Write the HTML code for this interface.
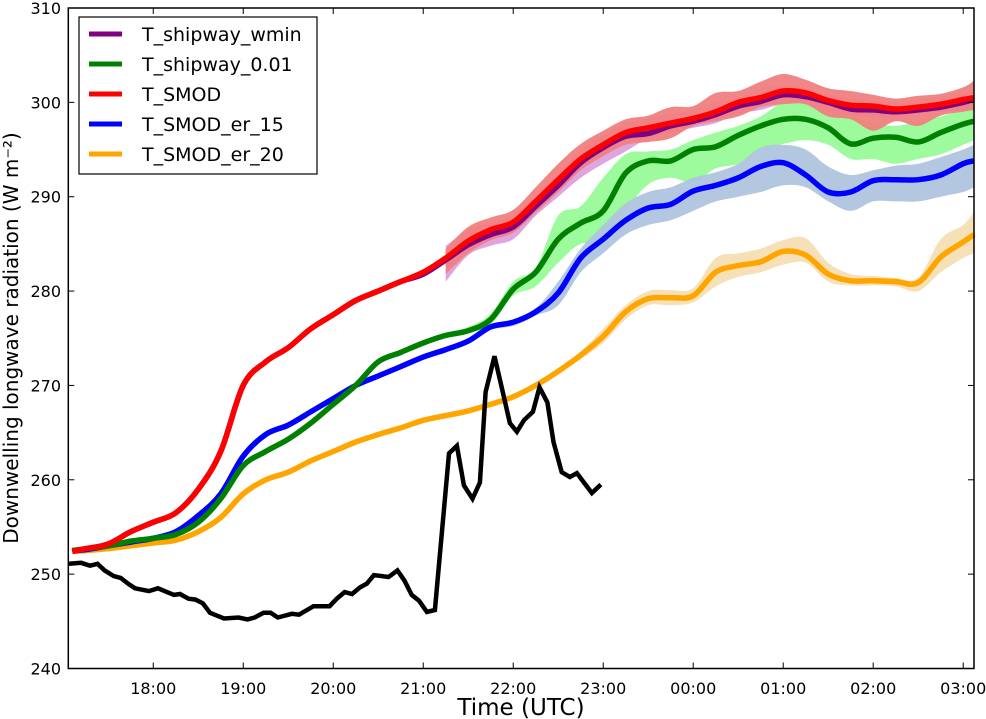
<!DOCTYPE html>
<html><head><meta charset="utf-8"><style>
html,body{margin:0;padding:0;background:#fff;}
svg{display:block;font-family:"DejaVu Sans","Liberation Sans",sans-serif;}
</style></head><body>
<svg id="chart" width="986" height="719" viewBox="0 0 986 719" xmlns="http://www.w3.org/2000/svg">
<g id="bands"></g>
<g id="lines"></g>
<g id="axes"></g>
<text x="521" y="715" font-size="23" text-anchor="middle">Time (UTC)</text>
<text transform="translate(18,338) rotate(-90)" font-size="20" text-anchor="middle">Downwelling longwave radiation (W m⁻²)</text>
<g>
<rect x="79" y="17" width="238" height="157" fill="#fff" stroke="#000" stroke-width="1.2"/>
<g><line x1="89" y1="34" x2="122" y2="34" stroke="#800080" stroke-width="5"/><text x="142" y="41" font-size="19">T_shipway_wmin</text></g>
<g><line x1="89" y1="64" x2="122" y2="64" stroke="#008000" stroke-width="5"/><text x="142" y="71" font-size="19">T_shipway_0.01</text></g>
<g><line x1="89" y1="94" x2="122" y2="94" stroke="#ff0000" stroke-width="5"/><text x="142" y="101" font-size="19">T_SMOD</text></g>
<g><line x1="89" y1="124" x2="122" y2="124" stroke="#0000ff" stroke-width="5"/><text x="142" y="131" font-size="19">T_SMOD_er_15</text></g>
<g><line x1="89" y1="154" x2="122" y2="154" stroke="#ffa500" stroke-width="5"/><text x="142" y="161" font-size="19">T_SMOD_er_20</text></g>
</g>
</svg>
<script>
// hours since 17:00 UTC
const gridTimes = [0.1,0.25,0.5,0.75,1,1.25,1.5,1.75,2,2.25,2.5,2.75,3,3.25,3.5,3.75,4,4.25,4.5,4.75,5,5.25,5.5,5.75,6,6.25,6.5,6.75,7,7.25,7.5,7.75,8,8.25,8.5,8.75,9,9.25,9.5,9.75,10,10.12];
const smod = [252.4,252.7,253.2,254.5,255.5,256.5,259,263,270,272.5,274,276,277.5,279,280,281,282,283.5,285.3,286.5,287.3,289.5,291.8,294,295.5,296.8,297.3,297.8,298.3,299,300,300.5,301.2,301,300.2,299.7,299.6,299.3,299.5,299.8,300.3,300.5];
const shipwayWmin = [252.4,252.7,253.2,254.5,255.5,256.5,259,263,270,272.5,274,276,277.5,279,280,281,281.8,283.3,284.9,286,286.8,289,291.2,293.6,295.2,296.4,296.7,297.5,298,298.7,299.6,300.1,300.8,300.6,300,299.3,299.2,299,299.2,299.5,300,300.3];
const shipway001 = [252.5,252.7,253,253.5,253.8,254.2,255.5,258,261.5,263,264.3,266,268,270,272.5,273.5,274.5,275.3,275.8,277,280.2,282,285.5,287.2,288.5,292.5,293.8,293.8,295,295.3,296.5,297.5,298.2,298.2,297.3,295.6,296.2,296.3,295.8,296.8,297.7,298];
const smodEr15 = [252.5,252.6,253,253.4,253.8,254.5,256.2,258.5,262.5,264.8,265.8,267.2,268.6,270,271,272,273,273.8,274.7,276.2,276.7,277.8,279.8,283.5,285.5,287.5,288.8,289.2,290.6,291.2,292,293.2,293.6,292.3,290.5,290.5,291.7,291.8,291.8,292.3,293.5,293.8];
const smodEr20 = [252.4,252.5,252.7,253,253.3,253.6,254.5,256,258.5,260,260.8,262,263,264,264.8,265.5,266.3,266.8,267.3,268,268.8,270,271.5,273.2,275.2,277.8,279.2,279.3,279.5,282,282.7,283.1,284.2,283.8,281.8,281.1,281.1,281,280.9,283.6,285.2,286];

const bandTimes = [4.25,4.5,4.75,5,5.25,5.5,5.75,6,6.25,6.5,6.75,7,7.25,7.5,7.75,8,8.25,8.5,8.75,9,9.25,9.5,9.75,10,10.12];
const wminHi = [284.8,286.5,287.3,288,290,292.5,295,296.5,297.8,298.3,298.8,299.2,300,300.5,301.5,301.8,301.5,300.8,300.4,300.2,300,300.3,300.6,301,301.3];
const wminLo = [281,283.8,284.8,285.5,288,290,292,293.5,294.8,296.2,296.8,297.3,297.8,298.8,299.2,299.8,299.5,298.8,298.6,298.4,298.4,298.8,299,299.2,299.4];
const greenHi = [275.6,276.2,277.6,281,282.5,288,289,292,294.5,294.8,295,296,296.8,297.5,298.5,300,299.8,299,298.5,297.8,297.5,298,298.5,299.3,299.8];
const greenLo = [275,275.5,276.5,279.5,280.5,283,285,285,288.5,291.3,292,291.5,293,293.5,295,295.6,296,295.5,294,294,293.5,294,294.5,295.5,296];
const smodHi = [284.5,286.8,287.8,288.6,291,293.5,295.6,297,298.2,298.6,299.5,299.6,301,301.2,302.2,303,302.4,301.5,301.2,300.8,300.4,300.7,300.9,301.6,302.3];
const smodLo = [281.8,284,285.4,286.2,288.3,290.5,292.8,294.3,295.5,295.8,296.2,297.5,298,298.5,299.5,299.8,299.8,298.5,298.2,297,298,297.5,298.6,299,299.2];
const er15Hi = [274,275,276.5,277,278.2,281,284.5,287,289.3,290.5,291,292,292.6,293.5,295.2,295.5,295,293.2,292.3,292.8,293.3,293.5,294.2,295,295.5];
const er15Lo = [273.5,274.4,275.9,276.3,277.4,278.5,282,284,286,287,287.5,288.5,289.5,290,290.5,291.2,291,289.5,288.5,289.5,289.5,289.5,290,290.5,291];
const er20Hi = [266.9,267.4,268.1,268.9,270.1,271.6,273.6,276,278.5,280,280.1,280.3,283.5,284,284.5,285.4,285.6,283,281.8,281.6,281.4,281.4,285.5,287,288.4];
const er20Lo = [266.7,267.2,267.9,268.7,269.9,271.4,272.8,274.5,277,278.5,278.5,278.8,280.5,281.5,282,282.8,283,281,280.6,280.6,280.5,280,282,283.5,284];

const obsTimes = [0.063,0.197,0.297,0.38,0.459,0.559,0.638,0.719,0.797,0.952,1.052,1.23,1.297,1.392,1.471,1.552,1.63,1.786,1.948,2.047,2.126,2.226,2.304,2.384,2.541,2.619,2.781,2.959,3.039,3.126,3.208,3.297,3.374,3.452,3.614,3.713,3.792,3.872,3.952,4.041,4.13,4.286,4.374,4.452,4.547,4.63,4.693,4.792,4.886,4.963,5.041,5.119,5.219,5.292,5.38,5.448,5.539,5.63,5.708,5.786,5.874,5.974];
const obsValues = [251.1,251.2,250.9,251.1,250.4,249.8,249.6,249.0,248.5,248.2,248.5,247.8,247.9,247.4,247.3,246.9,245.9,245.3,245.4,245.2,245.4,245.9,245.9,245.4,245.8,245.7,246.6,246.6,247.4,248.1,247.9,248.6,249.0,249.9,249.7,250.4,249.3,247.8,247.2,246.0,246.2,262.8,263.6,259.4,258.0,259.7,269.3,273.1,269.2,266.0,265.1,266.3,267.2,269.8,268.2,264.0,260.8,260.3,260.7,259.7,258.6,259.5];

const xTickLabels = ["18:00","19:00","20:00","21:00","22:00","23:00","00:00","01:00","02:00","03:00"];
const yTicks = [240,250,260,270,280,290,300,310];

const L=68.3,R=974,T=8,B=668.5;
const tMin=0.056,tMax=10.12,vMin=240,vMax=310;
function xs(t){return L+(t-tMin)/(tMax-tMin)*(R-L);}
function ys(v){return B-(v-vMin)/(vMax-vMin)*(B-T);}
const NS="http://www.w3.org/2000/svg";
function mk(tag,attrs,parent){const e=document.createElementNS(NS,tag);for(const k in attrs)e.setAttribute(k,attrs[k]);parent.appendChild(e);return e;}
function pts(ts,vs){return ts.map((t,i)=>[xs(t),ys(vs[i])]);}
function smooth(p,start){
  let d=(start?"M":"L")+p[0][0].toFixed(1)+","+p[0][1].toFixed(1);
  for(let i=0;i<p.length-1;i++){
    const p0=p[i-1]||p[i],p1=p[i],p2=p[i+1],p3=p[i+2]||p2;
    const c1=[p1[0]+(p2[0]-p0[0])/6,p1[1]+(p2[1]-p0[1])/6];
    const c2=[p2[0]-(p3[0]-p1[0])/6,p2[1]-(p3[1]-p1[1])/6];
    d+="C"+c1[0].toFixed(1)+","+c1[1].toFixed(1)+" "+c2[0].toFixed(1)+","+c2[1].toFixed(1)+" "+p2[0].toFixed(1)+","+p2[1].toFixed(1);
  }
  return d;
}

const bands=document.getElementById('bands');
const bandDefs=[["band-shipway-wmin",wminLo,wminHi,"#dda0dd"],["band-shipway-001",greenLo,greenHi,"#98fb98"],["band-smod",smodLo,smodHi,"#f08080"],["band-smod-er-15",er15Lo,er15Hi,"#b0c4de"],["band-smod-er-20",er20Lo,er20Hi,"#f5deb3"]];
bandDefs.forEach(d=>{
  const up=pts(bandTimes,d[2]);
  const dn=pts(bandTimes,d[1]).reverse();
  const p=mk('path',{d:smooth(up,true)+smooth(dn,false)+"Z",fill:d[3],opacity:"0.95"},bands);
  
  
});

const lines=document.getElementById('lines');
const lineDefs=[["line-smod-er-20",smodEr20,"#ffa500"],["line-smod-er-15",smodEr15,"#0000ff"],["line-shipway-001",shipway001,"#008000"],["line-shipway-wmin",shipwayWmin,"#800080"],["line-smod",smod,"#ff0000"]];
lineDefs.forEach(d=>{
  const p=mk('path',{d:smooth(pts(gridTimes,d[1]),true),fill:"none",stroke:d[2],"stroke-width":"5.5","stroke-linejoin":"round"},lines);
  
  
});
const obs=mk('polyline',{points:pts(obsTimes,obsValues).map(q=>q[0].toFixed(1)+","+q[1].toFixed(1)).join(" "),fill:"none",stroke:"#000","stroke-width":"4.5","stroke-linejoin":"miter"},lines);



const axes=document.getElementById('axes');
const frame=mk('rect',{x:L,y:T,width:R-L,height:B-T,fill:"none",stroke:"#000","stroke-width":"1.5"},axes);


yTicks.forEach(v=>{
  const y=ys(v);
  mk('line',{x1:L,y1:y,x2:L+6,y2:y,stroke:"#000","stroke-width":"1"},axes);
  mk('line',{x1:R,y1:y,x2:R-6,y2:y,stroke:"#000","stroke-width":"1"},axes);
  const tx=mk('text',{x:61,y:y+6,"font-size":"16","text-anchor":"end"},axes);
  tx.textContent=v;
  
  
});
xTickLabels.forEach((lab,i)=>{
  const x=xs(1+i);
  mk('line',{x1:x,y1:B,x2:x,y2:B-6,stroke:"#000","stroke-width":"1"},axes);
  mk('line',{x1:x,y1:T,x2:x,y2:T+6,stroke:"#000","stroke-width":"1"},axes);
  const tx=mk('text',{x:x,y:694,"font-size":"16","text-anchor":"middle"},axes);
  tx.textContent=lab;
  
  
});
</script>
</body></html>
